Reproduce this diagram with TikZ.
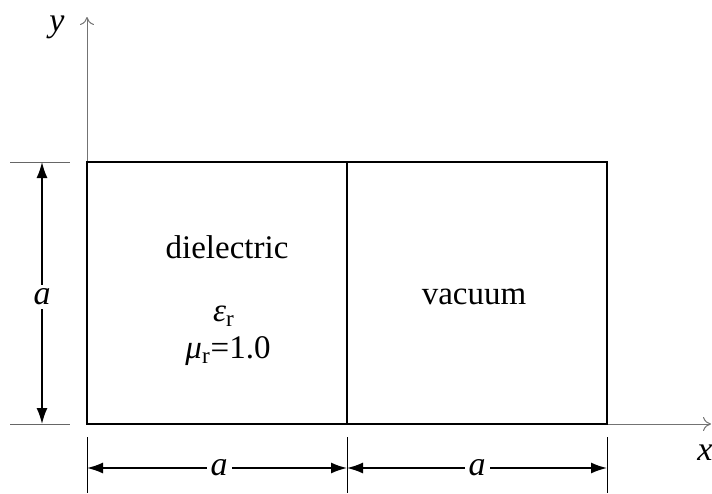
\documentclass[tikz,border=0pt]{standalone}
\usepackage{fontspec}
\setmainfont{Liberation Serif}
\usetikzlibrary{arrows.meta}
\begin{document}
\begin{tikzpicture}[x=0.5pt,y=-0.5pt,
  box/.style={line width=1pt, black},
  axisline/.style={line width=0.5pt, black!55, -{To[length=4pt,width=7pt]}},
  extline/.style={line width=0.5pt, black!60},
  dimline/.style={line width=0.8pt, black, {Latex[length=8pt,width=5.5pt]}-{Latex[length=8pt,width=5.5pt]}},
  lbl/.style={font=\fontsize{16.5}{19}\selectfont, inner sep=1pt},
  dimlbl/.style={font=\fontsize{17}{19}\selectfont\itshape, fill=white, inner sep=2pt}
]
\useasboundingbox (0,0) rectangle (712,493);
% rectangle corners
\coordinate (O) at (87,424);
\coordinate (A) at (87,162);
\coordinate (B) at (347,162);
\coordinate (C) at (347,424);
\coordinate (D) at (607,162);
\coordinate (E) at (607,424);
\coordinate (ytop) at (87,17);
\coordinate (xend) at (711,424);
% axes
\draw[axisline] (A) -- (ytop);
\draw[axisline] (E) -- (xend);
\node[lbl, font=\fontsize{17}{19}\selectfont\itshape] (ylab) at (57,27) {y};
\node[lbl, font=\fontsize{17}{19}\selectfont\itshape] (xlab) at (705,453) {x};
% boxes
\draw[box] (O) -- (A) -- (D) -- (E) -- cycle;
\draw[box] (B) -- (C);
% left dimension
\coordinate (l1a) at (10,162); \coordinate (l1b) at (70,162);
\coordinate (l2a) at (10,424); \coordinate (l2b) at (70,424);
\draw[extline] (l1a) -- (l1b);
\draw[extline] (l2a) -- (l2b);
\coordinate (vt) at (42,162); \coordinate (vb) at (42,424);
\draw[dimline] (vt) -- (vb);
\node[dimlbl] (va) at (42,297) {a};
% bottom dimensions
\coordinate (e1t) at (87,437); \coordinate (e1b) at (87,493);
\coordinate (e2t) at (347,437); \coordinate (e2b) at (347,493);
\coordinate (e3t) at (607,437); \coordinate (e3b) at (607,493);
\draw[extline, black] (e1t) -- (e1b);
\draw[extline, black] (e2t) -- (e2b);
\draw[extline, black] (e3t) -- (e3b);
\coordinate (h1) at (87,468); \coordinate (h2) at (347,468); \coordinate (h3) at (607,468);
\draw[dimline] (h1) -- (h2);
\draw[dimline] (h2) -- (h3);
\node[dimlbl] (ha1) at (219,468) {a};
\node[dimlbl] (ha2) at (477,468) {a};
% labels
\node[lbl] (diel) at (227,247) {dielectric};
\node[lbl] (eps) at (224,316) {\textit{ε}\textsubscript{r}};
\node[lbl] (mu) at (228,351) {\textit{μ}\textsubscript{r}=1.0};
\node[lbl] (vac) at (474,297) {vacuum};
\end{tikzpicture}
\end{document}
